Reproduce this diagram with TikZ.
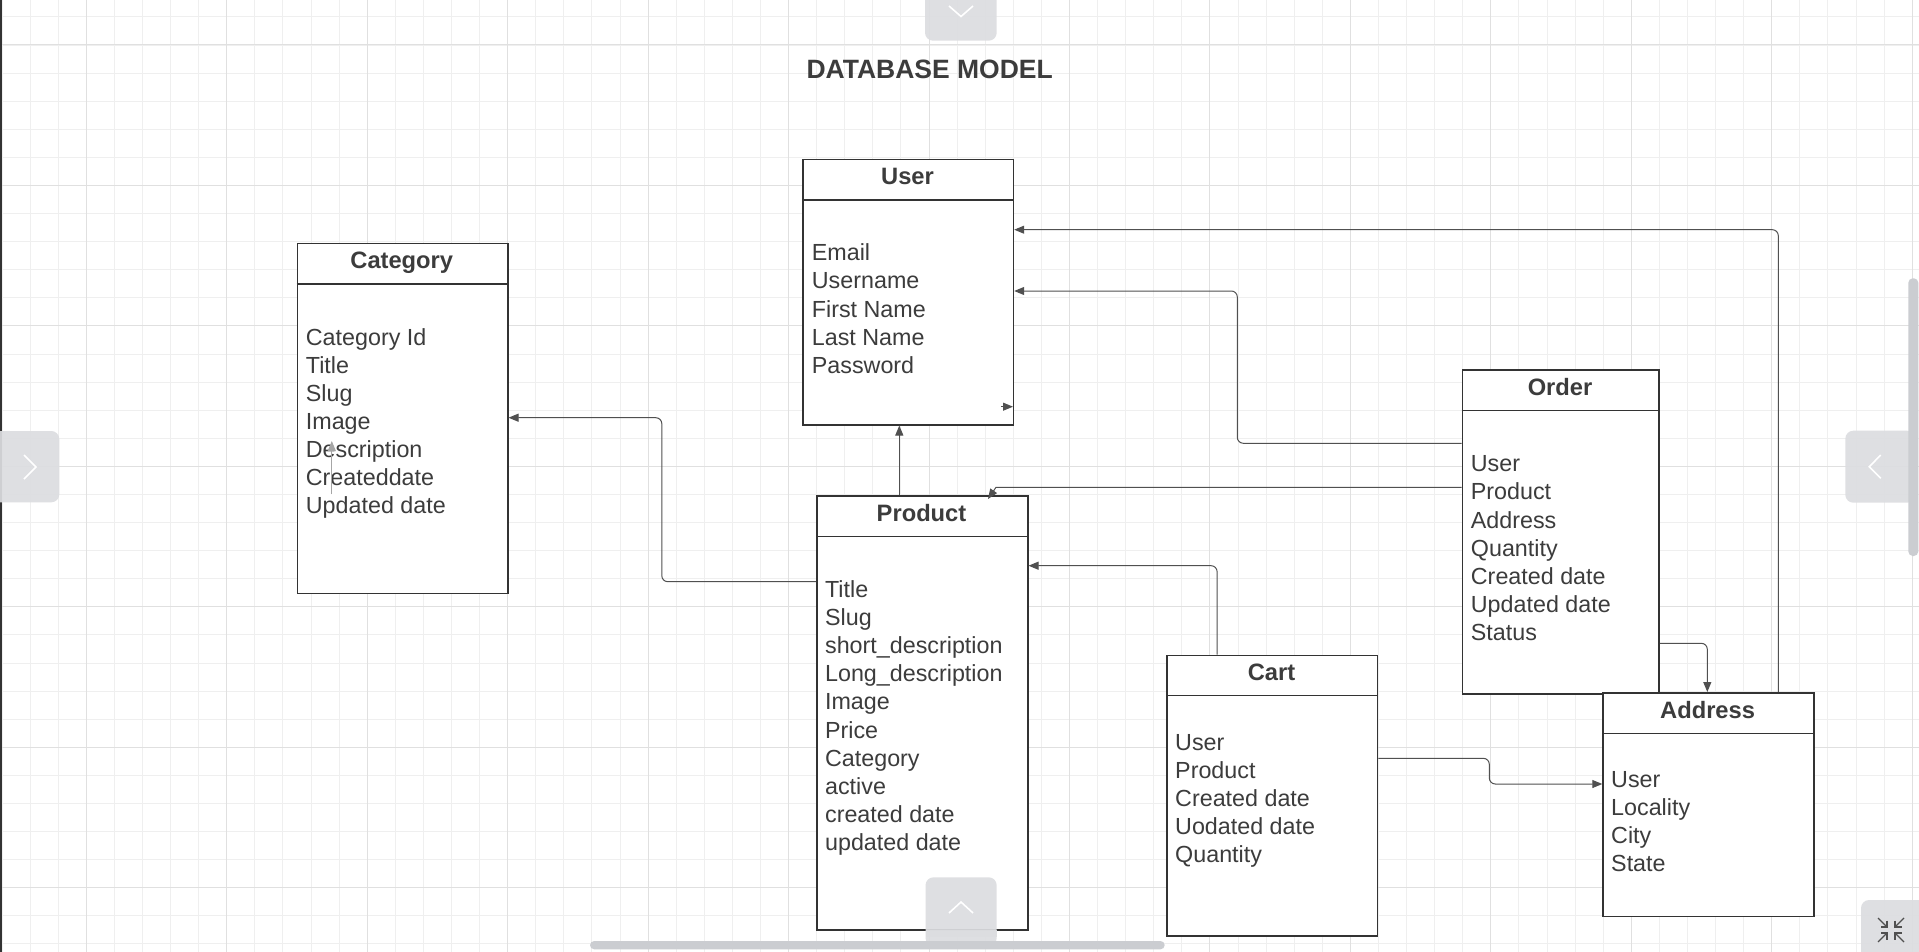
\documentclass[tikz,border=0pt]{standalone}
\usepackage{fontspec}
\setmainfont{Liberation Sans}
\usetikzlibrary{arrows.meta}
\definecolor{gridminor}{HTML}{EFEFEF}
\definecolor{gridmajor}{HTML}{E0E0E0}
\definecolor{boxcol}{HTML}{333333}
\definecolor{txtcol}{HTML}{3C3C3C}
\definecolor{conncol}{HTML}{505050}
\definecolor{tabcol}{HTML}{DCDDE0}
\definecolor{barcol}{HTML}{CBCDD1}
\tikzset{
  erbox/.style={draw=boxcol, line width=1.5pt, fill=white, inner sep=0pt, anchor=north west},
  hdrline/.style={draw=boxcol, line width=1.5pt},
  hdr/.style={font=\bfseries\fontsize{23.7}{28}\selectfont, text=txtcol, anchor=base, inner sep=0pt},
  fld/.style={font=\fontsize{23.3}{28}\selectfont, text=txtcol, anchor=base west, inner sep=0pt},
  conn/.style={draw=conncol, line width=1pt, rounded corners=6pt, -{Triangle[length=10pt,width=8pt]}},
  uitab/.style={fill=tabcol, fill opacity=0.92, draw=none},
  chev/.style={draw=white, line width=1.6pt},
  icon/.style={draw=conncol, line width=1.3pt},
}
\begin{document}
\begin{tikzpicture}[x=1pt,y=-1pt]
\useasboundingbox (0,0) rectangle (1919,952);
\fill[white] (0,0) rectangle (1919,952);
% grid
\foreach \i in {0,...,68} \draw[gridminor, line width=0.9pt] ({2.03+\i*28.09},0) -- ({2.03+\i*28.09},952);
\foreach \j in {1,...,34} \draw[gridminor, line width=0.9pt] (0,{-11.2+\j*28.09}) -- (1919,{-11.2+\j*28.09});
\foreach \i in {0,...,13} \draw[gridmajor, line width=1pt] ({86.3+\i*140.45},0) -- ({86.3+\i*140.45},952);
\foreach \j in {0,...,6} \draw[gridmajor, line width=1pt] (0,{45+\j*140.45}) -- (1919,{45+\j*140.45});

% title
\node[anchor=base, inner sep=0pt, font=\bfseries\fontsize{26.5}{30}\selectfont, text=txtcol] (title) at (929.7,78.3) {DATABASE MODEL};

% User
\node[erbox, minimum width=210.4pt, minimum height=265.3pt] (user) at (802.3,158.7) {};
\draw[hdrline] (user.west |- 0,200) -- (user.east |- 0,200);
\node[hdr] (user-t) at (907.5,184.7) {User};
\foreach \t [count=\k] in {Email,Username,First Name,Last Name,Password}
  \node[fld] (user-f\k) at (811.7,{260.7+(\k-1)*28.15}) {\t};

% Category
\node[erbox, minimum width=210.5pt, minimum height=350pt] (category) at (296.5,242.7) {};
\draw[hdrline] (category.west |- 0,284) -- (category.east |- 0,284);
\node[hdr] (category-t) at (401.75,268.7) {Category};
\foreach \t [count=\k] in {Category Id,Title,Slug,Image,Description,Createddate,Updated date}
  \node[fld] (category-f\k) at (305.7,{345+(\k-1)*28.15}) {\t};

% Product
\node[erbox, minimum width=211pt, minimum height=433.7pt] (product) at (816,495.3) {};
\draw[hdrline] (product.west |- 0,536.7) -- (product.east |- 0,536.7);
\node[hdr] (product-t) at (921.5,521.3) {Product};
\foreach \t [count=\k] in {Title,Slug,short\_description,Long\_description,Image,Price,Category,active,created date,updated date}
  \node[fld] (product-f\k) at (824.9,{597.3+(\k-1)*28.15}) {\t};

% Order
\node[erbox, minimum width=196.6pt, minimum height=323.7pt] (order) at (1461.7,369.3) {};
\draw[hdrline] (order.west |- 0,410.3) -- (order.east |- 0,410.3);
\node[hdr] (order-t) at (1560,395.3) {Order};
\foreach \t [count=\k] in {User,Product,Address,Quantity,Created date,Updated date,Status}
  \node[fld] (order-f\k) at (1470.7,{471.8+(\k-1)*28.15}) {\t};

% Cart
\node[erbox, minimum width=210.5pt, minimum height=280.6pt] (cart) at (1166.3,654.7) {};
\draw[hdrline] (cart.west |- 0,695.7) -- (cart.east |- 0,695.7);
\node[hdr] (cart-t) at (1271.5,680.7) {Cart};
\foreach \t [count=\k] in {User,Product,Created date,Uodated date,Quantity}
  \node[fld] (cart-f\k) at (1175,{750+(\k-1)*28.15}) {\t};

% Address
\node[erbox, minimum width=210.7pt, minimum height=223.7pt] (address) at (1602.3,692) {};
\draw[hdrline] (address.west |- 0,733.3) -- (address.east |- 0,733.3);
\node[hdr] (address-t) at (1707.6,718) {Address};
\foreach \t [count=\k] in {User,Locality,City,State}
  \node[fld] (address-f\k) at (1611,{787.3+(\k-1)*28.15}) {\t};

% connectors
\draw[conn] (product.west |- 0,581.7) -- (661.8,581.7) -- (661.8,417.7) -- (category.east |- 0,417.7);
\draw[conn] (product.north -| 899.3,0) -- (user.south -| 899.3,0);
\draw[conn] (order.west |- 0,443.3) -- (1237.3,443.3) -- (1237.3,291) -- (user.east |- 0,291);
\draw[conn, rounded corners=0pt] (order.west |- 0,487.3) -- (996,487.3) -- (988,499);
\draw[conn] (address.north -| 1778.3,0) -- (1778.3,229.7) -- (user.east |- 0,229.7);
\draw[conn] (cart.north -| 1217.1,0) -- (1217.1,565.7) -- (product.east |- 0,565.7);
\draw[conn] (cart.east |- 0,758.3) -- (1489.3,758.3) -- (1489.3,784) -- (address.west |- 0,784);
\draw[conn] (order.east |- 0,643.3) -- (1707.3,643.3) -- (address.north -| 1707.3,0);
% stray stubs
\coordinate (ustubA) at (1001,406.7);
\coordinate (ustubB) at (1013,406.7);
\draw[conn] (ustubA) -- (ustubB);
\coordinate (cstubA) at (331.8,494.3);
\coordinate (cstubB) at (331.8,441);
\draw[conn, draw=gray!70] (cstubA) -- (cstubB);

% UI overlay
\fill[boxcol] (0,0) rectangle (2.3,952);
\fill[uitab, rounded corners=8pt] (925,-10) rectangle (996.7,40.7);
\draw[chev] (949,6) -- (961,16.5) -- (973,6);
\fill[uitab, rounded corners=8pt] (925.5,877.3) rectangle (996.7,946);
\fill[uitab] (925.5,930) rectangle (996.7,936.7);
\draw[chev] (949,913) -- (961,902) -- (973,913);
\fill[uitab, rounded corners=8pt] (-10,431) rectangle (59.3,502.3);
\draw[chev] (24,455) -- (36,467) -- (24,479);
\fill[uitab, rounded corners=8pt] (1845.3,430.7) rectangle (1915,502.7);
\draw[chev] (1880.7,455) -- (1869.3,466.7) -- (1880.7,478.3);
\fill[barcol, rounded corners=4.5pt] (1908.3,278.3) rectangle (1918.3,556);
\fill[barcol, rounded corners=4.2pt] (590,941) rectangle (1164.7,949.3);
\fill[uitab, rounded corners=8pt] (1861,900) rectangle (1930,962);
\draw[icon] (1878,918) -- (1887,927); \draw[icon] (1887,920.5) -- (1887,927) -- (1880.5,927);
\draw[icon] (1904,918) -- (1895,927); \draw[icon] (1895,920.5) -- (1895,927) -- (1901.5,927);
\draw[icon] (1878,942) -- (1887,933); \draw[icon] (1887,939.5) -- (1887,933) -- (1880.5,933);
\draw[icon] (1904,942) -- (1895,933); \draw[icon] (1895,939.5) -- (1895,933) -- (1901.5,933);
\end{tikzpicture}
\end{document}
